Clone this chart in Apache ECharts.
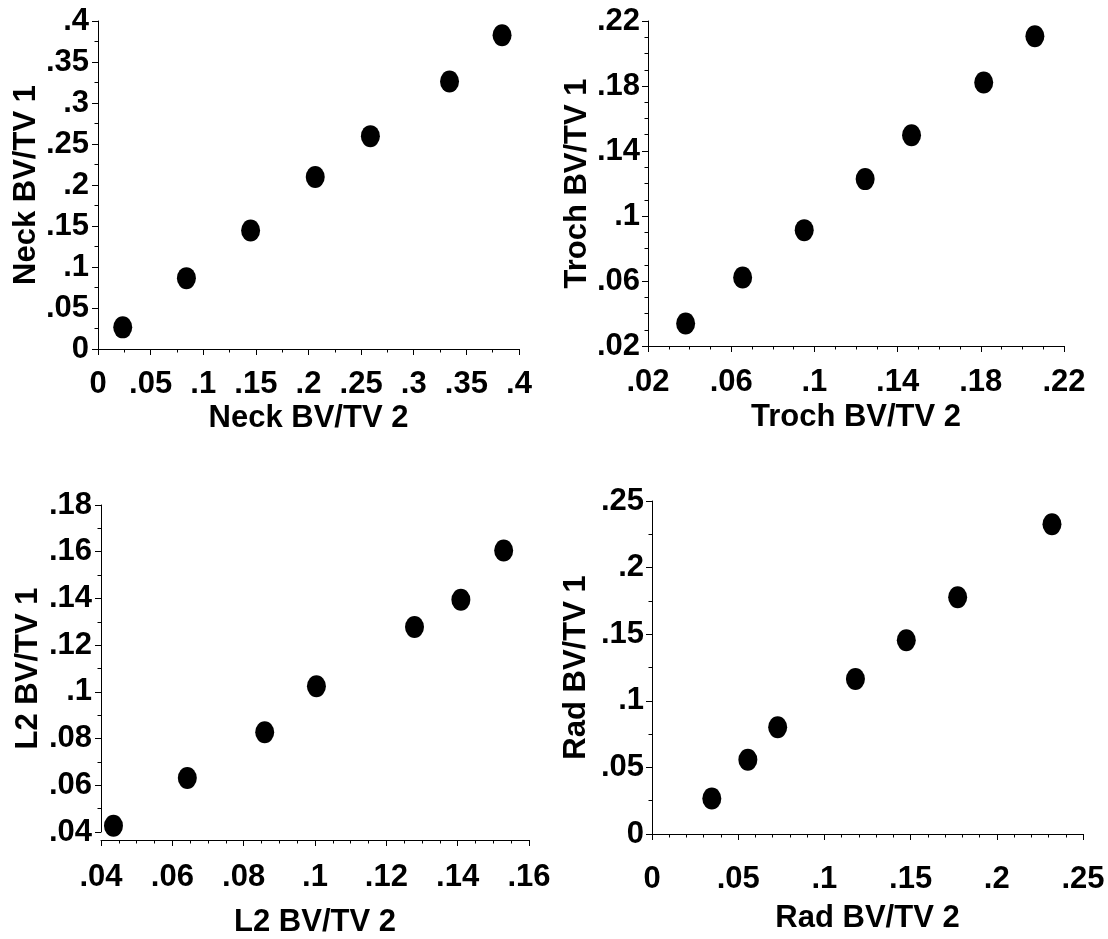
<!DOCTYPE html>
<html>
<head>
<meta charset="utf-8">
<script src="https://cdn.jsdelivr.net/npm/echarts@6/dist/echarts.min.js"></script>
<style>
html,body{margin:0;padding:0;background:#fff;}
#chart{width:1108px;height:939px;}
</style>
</head>
<body>
<div id="chart"></div>
<script>
// ---- Data ----
const neckX  = [0.0235, 0.084, 0.145, 0.2064, 0.2588, 0.334, 0.3839];
const neckY  = [0.0264, 0.0864, 0.1444, 0.2097, 0.2596, 0.3262, 0.3826];
const trochX = [0.0381, 0.0655, 0.0951, 0.1244, 0.1467, 0.1814, 0.206];
const trochY = [0.0339, 0.0622, 0.0913, 0.1227, 0.1497, 0.1821, 0.2106];
const l2X    = [0.0435, 0.0642, 0.0859, 0.1004, 0.1279, 0.1409, 0.1529];
const l2Y    = [0.0427, 0.0631, 0.0827, 0.1024, 0.1278, 0.1394, 0.1605];
const radX   = [0.0347, 0.0556, 0.0729, 0.118, 0.1475, 0.1773, 0.232];
const radY   = [0.0267, 0.0557, 0.0802, 0.1164, 0.1454, 0.1778, 0.2325];

const xTitles = ['Neck BV/TV 2', 'Troch BV/TV 2', 'L2 BV/TV 2', 'Rad BV/TV 2'];
const yTitles = ['Neck BV/TV 1', 'Troch BV/TV 1', 'L2 BV/TV 1', 'Rad BV/TV 1'];

// axis ranges: [min, max, interval, minorSplit]
const xRanges = [[0, 0.4, 0.05, 2], [0.02, 0.22, 0.04, 4], [0.04, 0.16, 0.02, 4], [0, 0.25, 0.05, 5]];
const yRanges = [[0, 0.4, 0.05, 2], [0.02, 0.22, 0.04, 4], [0.04, 0.18, 0.02, 2], [0, 0.25, 0.05, 2]];

const pairs = [[neckX, neckY], [trochX, trochY], [l2X, l2Y], [radX, radY]];

// ---- Layout ----
const grids = [
  {left: 98,  top: 21,  width: 421, height: 328},
  {left: 648, top: 21,  width: 416, height: 325},
  {left: 101, top: 505, width: 428, height: 333},
  {left: 652, top: 501, width: 431, height: 333}
];
const xOffsets = [0, 0, 8, 8];
const xLabelMargins = [20, 21, 22, 22];
const xNameGaps = [54, 56, 67, 61];
const yNameGaps = [56, 55, 57, 60];
const yLabelMargins = [9, 8, 9, 8];

const FONT = '"Liberation Sans", Arial, Helvetica, sans-serif';

function fmt(v) {
  if (Math.abs(v) < 1e-9) return '0';
  const s = String(+v.toFixed(4));
  return s.replace(/^0\./, '.');
}

function axisCommon(r) {
  return {
    type: 'value',
    min: r[0], max: r[1], interval: r[2],
    splitLine: {show: false},
    axisLine: {show: true, lineStyle: {color: '#000', width: 1}},
    axisTick: {show: true, length: 6, lineStyle: {color: '#000', width: 1}},
    minorTick: {show: true, splitNumber: r[3], length: 3.5, lineStyle: {color: '#000', width: 1}},
    axisLabel: {
      formatter: fmt, color: '#000', fontFamily: FONT, fontWeight: 'bold', fontSize: 31,
      showMinLabel: true, showMaxLabel: true
    },
    nameTextStyle: {color: '#000', fontFamily: FONT, fontWeight: 'bold', fontSize: 31},
    nameLocation: 'middle'
  };
}

const xAxes = [], yAxes = [], series = [];
for (let i = 0; i < 4; i++) {
  const xa = axisCommon(xRanges[i]);
  xa.gridIndex = i;
  xa.name = xTitles[i];
  xa.nameGap = xNameGaps[i];
  xa.offset = xOffsets[i];
  xa.axisLabel.margin = xLabelMargins[i];
  xAxes.push(xa);

  const ya = axisCommon(yRanges[i]);
  ya.gridIndex = i;
  ya.name = yTitles[i];
  ya.nameGap = yNameGaps[i];
  ya.nameRotate = 90;
  ya.axisLabel.margin = yLabelMargins[i];
  ya.axisLabel.verticalAlign = 'middle';
  ya.axisLabel.padding = [12, 0, 0, 0];
  yAxes.push(ya);

  const xs = pairs[i][0], ys = pairs[i][1];
  series.push({
    type: 'scatter',
    xAxisIndex: i, yAxisIndex: i,
    symbol: 'circle',
    symbolSize: [19, 22],
    itemStyle: {color: '#000', opacity: 1},
    data: xs.map((x, k) => [x, ys[k]]),
    clip: false
  });
}

const chart = echarts.init(document.getElementById('chart'), null, {renderer: 'canvas'});
chart.setOption({
  animation: false,
  backgroundColor: '#fff',
  grid: grids.map(g => Object.assign({containLabel: false}, g)),
  xAxis: xAxes,
  yAxis: yAxes,
  series: series
});
</script>
</body>
</html>
